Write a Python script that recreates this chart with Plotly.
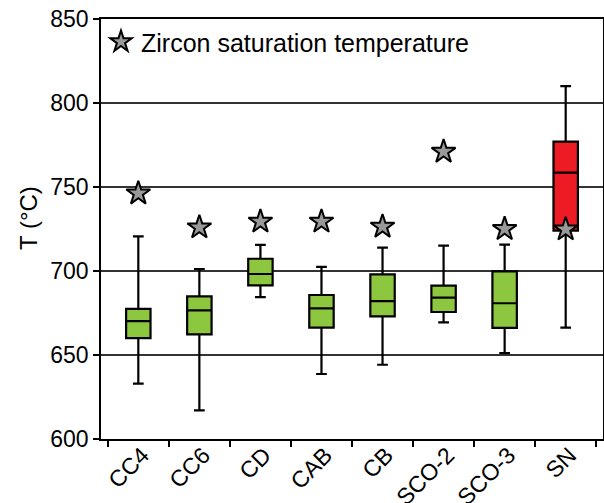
import plotly.graph_objects as go

# Sample groups and box-plot statistics (°C)
groups = ["CC4", "CC6", "CD", "CAB", "CB", "SCO-2", "SCO-3", "SN"]
lower_whisker = [633, 617, 684.5, 638.7, 644.2, 669.4, 651.2, 666.3]
q1 = [660, 662.3, 691.5, 666.3, 673, 675.6, 666.1, 724]
median = [670.2, 676.6, 698.2, 677.8, 682.1, 684.1, 680.8, 758.5]
q3 = [677.4, 684.9, 707.3, 685.7, 698, 691.3, 699.8, 777]
upper_whisker = [720.6, 701.2, 715.5, 702.4, 713.9, 715.1, 715.7, 810.1]

# Zircon saturation temperature per group
zircon_sat = [746.2, 726, 729.4, 729.4, 726.4, 771, 725, 724.8]

GREEN = "#8DC63F"
RED = "#ED1C24"
FONT = "Liberation Sans, Arial, sans-serif"

fig = go.Figure()

def add_boxes(idx, color):
    fig.add_trace(go.Box(
        x=[groups[i] for i in idx],
        q1=[q1[i] for i in idx],
        median=[median[i] for i in idx],
        q3=[q3[i] for i in idx],
        lowerfence=[lower_whisker[i] for i in idx],
        upperfence=[upper_whisker[i] for i in idx],
        fillcolor=color,
        line=dict(color="black", width=2.2),
        width=0.4,
        whiskerwidth=0.44,
        boxpoints=False,
        showlegend=False,
        hoverinfo="skip",
    ))

add_boxes(list(range(7)), GREEN)
add_boxes([7], RED)

fig.add_trace(go.Scatter(
    x=groups,
    y=zircon_sat,
    mode="markers",
    name="Zircon saturation temperature",
    marker=dict(symbol="star", size=18, color="#999999",
                line=dict(color="black", width=2)),
    showlegend=True,
))

# Y-axis label placed as a rotated annotation
fig.add_annotation(
    text="T (°C)",
    xref="paper", yref="paper",
    x=(28 - 101) / 502, y=(439 - 218) / 420,
    xanchor="center", yanchor="middle",
    textangle=-90,
    showarrow=False,
    font=dict(family=FONT, size=24, color="black"),
)

fig.update_layout(
    width=604,
    height=503,
    margin=dict(l=101, r=1, t=19, b=64),
    paper_bgcolor="white",
    plot_bgcolor="white",
    boxmode="overlay",
    font=dict(family=FONT, size=23, color="black"),
    legend=dict(
        x=0.0, y=1.0, xanchor="left", yanchor="top",
        bgcolor="rgba(0,0,0,0)",
        font=dict(family=FONT, size=25, color="black"),
        itemsizing="trace",
        itemwidth=30,
        tracegroupgap=0,
    ),
    xaxis=dict(
        categoryorder="array",
        categoryarray=groups,
        tickson="boundaries",
        ticks="outside",
        ticklen=6,
        tickwidth=1.5,
        tickcolor="black",
        tickangle=-45,
        ticklabelstandoff=-8,
        ticklabelshift=4,
        tickfont=dict(family=FONT, size=23, color="black"),
        showline=True,
        linecolor="black",
        linewidth=1.5,
        mirror=True,
        showgrid=False,
        automargin=False,
    ),
    yaxis=dict(
        range=[600, 850],
        tickvals=[600, 650, 700, 750, 800, 850],
        ticks="outside",
        ticklen=6,
        tickwidth=1.5,
        tickcolor="black",
        tickfont=dict(family=FONT, size=23, color="black"),
        showline=True,
        linecolor="black",
        linewidth=1.5,
        mirror=True,
        showgrid=True,
        gridcolor="#333333",
        gridwidth=1.5,
        zeroline=False,
        automargin=False,
    ),
)

fig.write_html("out.html")
